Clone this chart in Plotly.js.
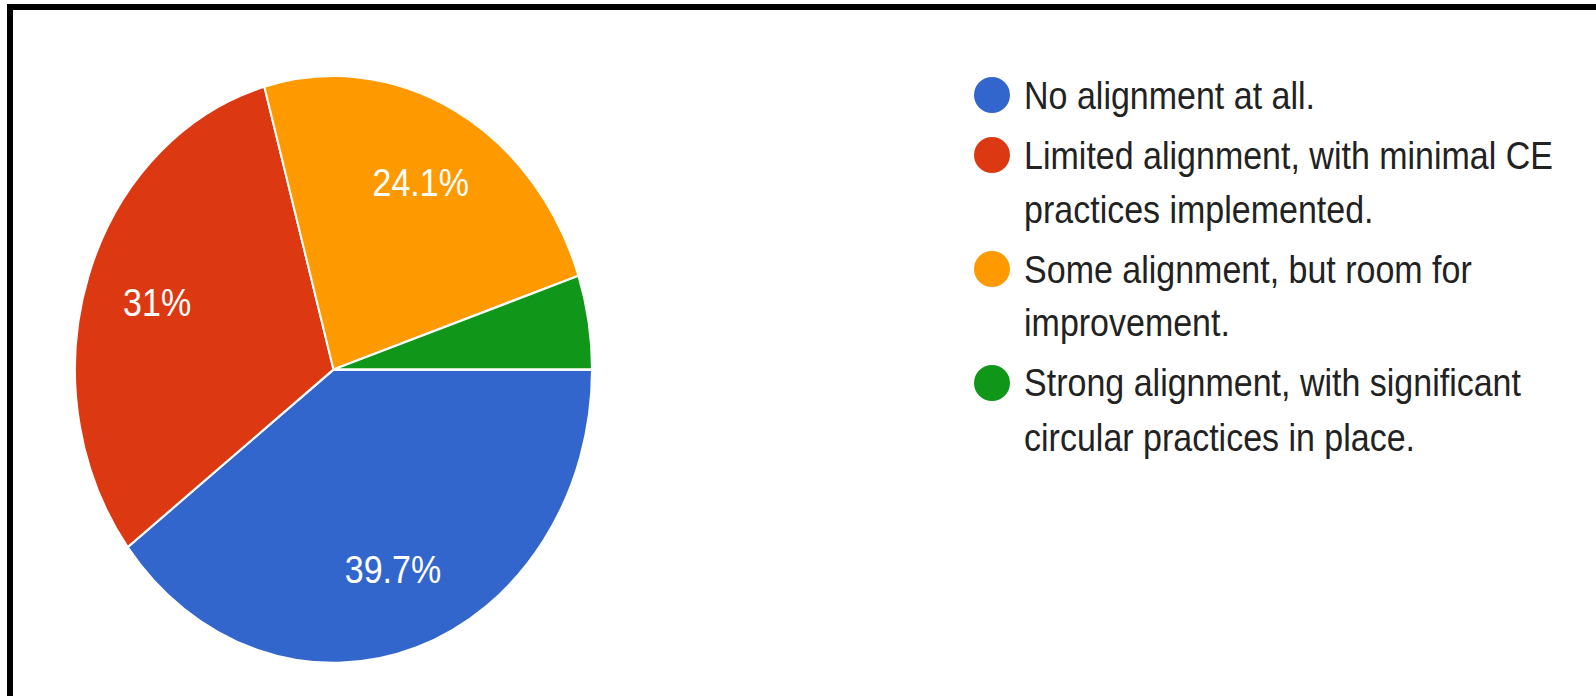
<!DOCTYPE html>
<html>
<head>
<meta charset="utf-8">
<script src="https://cdn.plot.ly/plotly-3.0.1.min.js"></script>
<style>
  html, body { margin: 0; padding: 0; background: #ffffff; overflow: hidden; width: 1596px; height: 696px; }
  #plot { position: absolute; left: 0; top: 0; width: 1596px; height: 613px; transform: scaleY(1.1354); transform-origin: 0 0; }
  #frame { position: absolute; left: 7px; top: 4px; width: 1589px; height: 692px; border-top: 6px solid #000; border-left: 6px solid #000; box-sizing: border-box; pointer-events: none; }
</style>
</head>
<body>
<div id="plot"></div>
<div id="frame"></div>
<script>
// ---- data ----
const legendLines = [
  ["No alignment at all."],
  ["Limited alignment, with minimal CE", "practices implemented."],
  ["Some alignment, but room for", "improvement."],
  ["Strong alignment, with significant", "circular practices in place."]
];
const categories = legendLines.map(l => l.join(" "));
const responses = [23, 18, 14, 3];
const sliceColors = ["#3366cc", "#dc3912", "#ff9900", "#109618"];

// ---- geometry (final-picture pixels) ----
const W = 1596, H = 613, K = 1.1354;
const total = responses.reduce((a, b) => a + b, 0);
const pctText = responses.map(v => {
  const p = v / total * 100;
  if (p < 10) return "";
  let s = p.toFixed(1);
  if (s.endsWith(".0")) s = s.slice(0, -2);
  return s + "%";
});

const pieLeft = 75, pieRight = 592, pieTop = 76 / K, pieBottom = 663 / K;
const pieDomain = { x: [pieLeft / W, pieRight / W], y: [1 - pieBottom / H, 1 - pieTop / H] };

const annotations = [];
const shapes = [];
let y = 95;
legendLines.forEach((lines, i) => {
  const cy = y / K;
  shapes.push({
    type: "circle", xref: "paper", yref: "paper",
    x0: (992 - 18) / W, x1: (992 + 18) / W,
    y0: 1 - (cy + 18 / K) / H, y1: 1 - (cy - 18 / K) / H,
    fillcolor: sliceColors[i], line: { width: 0 }
  });
  lines.forEach((ln, j) => {
    annotations.push({
      xref: "paper", yref: "paper", x: 1022 / W, y: 1 - (y / K) / H,
      xanchor: "left", yanchor: "middle", showarrow: false, text: ln,
      font: { family: "Liberation Sans, Arial, sans-serif", size: 34, color: "#222222" }
    });
    if (j < lines.length - 1) y += 54;
  });
  y += 60;
});

// visible slices
const pieTrace = {
  type: "pie",
  labels: categories,
  values: responses,
  textinfo: "none",
  sort: false,
  direction: "clockwise",
  rotation: 90,
  marker: { colors: sliceColors, line: { color: "#ffffff", width: 2 } },
  domain: pieDomain,
  showlegend: false,
  hoverinfo: "label+percent"
};

// transparent ring carrying the percentage labels (places them at ~0.72 r)
const labelTrace = {
  type: "pie",
  labels: categories,
  values: responses,
  text: pctText,
  textinfo: "text",
  textposition: "inside",
  insidetextorientation: "horizontal",
  hole: 0.44,
  sort: false,
  direction: "clockwise",
  rotation: 90,
  marker: { colors: sliceColors.map(() => "rgba(0,0,0,0)"), line: { width: 0 } },
  textfont: { family: "Liberation Sans, Arial, sans-serif", size: 34, color: "#ffffff" },
  domain: pieDomain,
  showlegend: false,
  hoverinfo: "skip"
};

const layout = {
  width: W, height: H,
  margin: { l: 0, r: 0, t: 0, b: 0 },
  paper_bgcolor: "rgba(0,0,0,0)",
  plot_bgcolor: "rgba(0,0,0,0)",
  showlegend: false,
  annotations: annotations,
  shapes: shapes
};

Plotly.newPlot("plot", [pieTrace, labelTrace], layout, { displayModeBar: false, staticPlot: true });
</script>
</body>
</html>
